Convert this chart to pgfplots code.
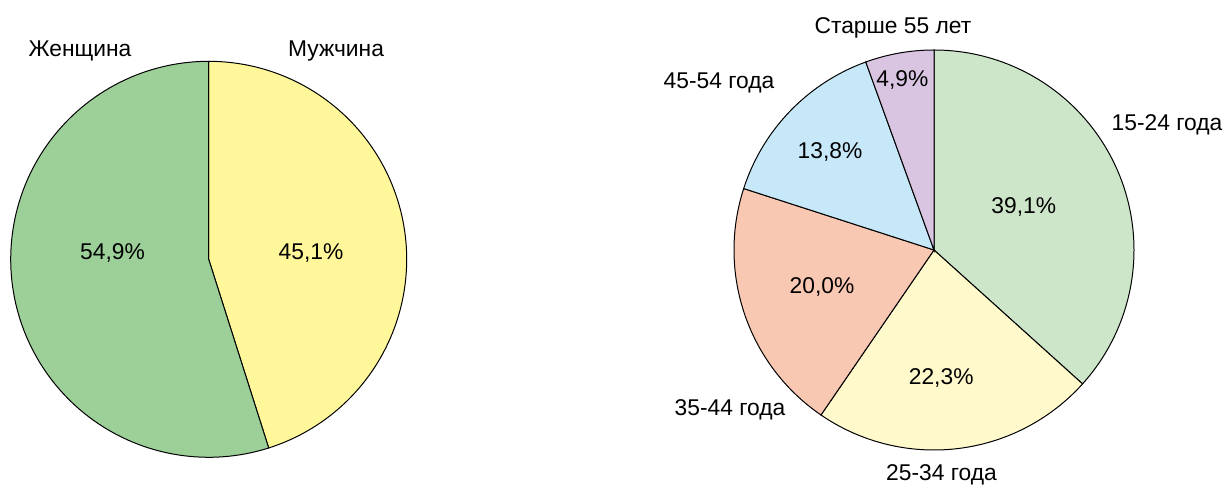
\documentclass[border=0pt]{standalone}
\usepackage{pgfplots}
\pgfplotsset{compat=1.18}
\usepackage{fontspec}
\setmainfont{Liberation Sans}
\definecolor{gA}{RGB}{157,208,153}
\definecolor{yA}{RGB}{255,247,153}
\definecolor{gB}{RGB}{205,230,201}
\definecolor{yB}{RGB}{255,249,204}
\definecolor{sB}{RGB}{249,200,178}
\definecolor{bB}{RGB}{199,232,248}
\definecolor{pB}{RGB}{217,197,225}
% slice: colour, start angle, end angle (degrees, counter-clockwise from +x)
\newcommand{\slice}[3]{\addplot[fill=#1, draw=black, line width=0.5pt, domain=#2:#3, samples=120, variable=\t] ({cos(t)},{sin(t)}) -- (axis cs:0,0) -- cycle;}
\begin{document}
\begin{tikzpicture}[every node/.style={font=\fontsize{11.4bp}{13.5bp}\selectfont}]
\useasboundingbox (0bp,0bp) rectangle (613bp,243.5bp);
% ---- Gender: Женщина 54.9, Мужчина 45.1
\begin{axis}[at={(104.35bp,113.85bp)}, anchor=center, x=99bp, y=99bp,
  xmin=-1, xmax=1, ymin=-1, ymax=1, hide axis, clip=false, scale only axis]
  \slice{yA}{-72.36}{90}
  \slice{gA}{90}{287.64}
  \node at (axis cs:-0.486,0.032) {54,9\%};
  \node at (axis cs:0.517,0.032) {45,1\%};
  \node at (axis cs:-0.65,1.052) {Женщина};
  \node at (axis cs:0.643,1.052) {Мужчина};
\end{axis}
% ---- Age groups
\begin{axis}[at={(467bp,118.5bp)}, anchor=center, x=100bp, y=100bp,
  xmin=-1, xmax=1, ymin=-1, ymax=1, hide axis, clip=false, scale only axis]
  \slice{gB}{-42.03}{90}
  \slice{yB}{-124.41}{-42.03}
  \slice{sB}{162.11}{235.59}
  \slice{bB}{109.95}{162.11}
  \slice{pB}{90}{109.95}
  \node at (axis cs:0.449,0.217) {39,1\%};
  \node at (axis cs:0.036,-0.64) {22,3\%};
  \node at (axis cs:-0.56,-0.186) {20,0\%};
  \node at (axis cs:-0.52,0.49) {13,8\%};
  \node at (axis cs:-0.158,0.848) {4,9\%};
  \node at (axis cs:1.165,0.625) {15-24 года};
  \node at (axis cs:0.0375,-1.125) {25-34 года};
  \node at (axis cs:-1.02,-0.8) {35-44 года};
  \node at (axis cs:-1.075,0.835) {45-54 года};
  \node at (axis cs:-0.205,1.11) {Старше 55 лет};
\end{axis}
\end{tikzpicture}
\end{document}
